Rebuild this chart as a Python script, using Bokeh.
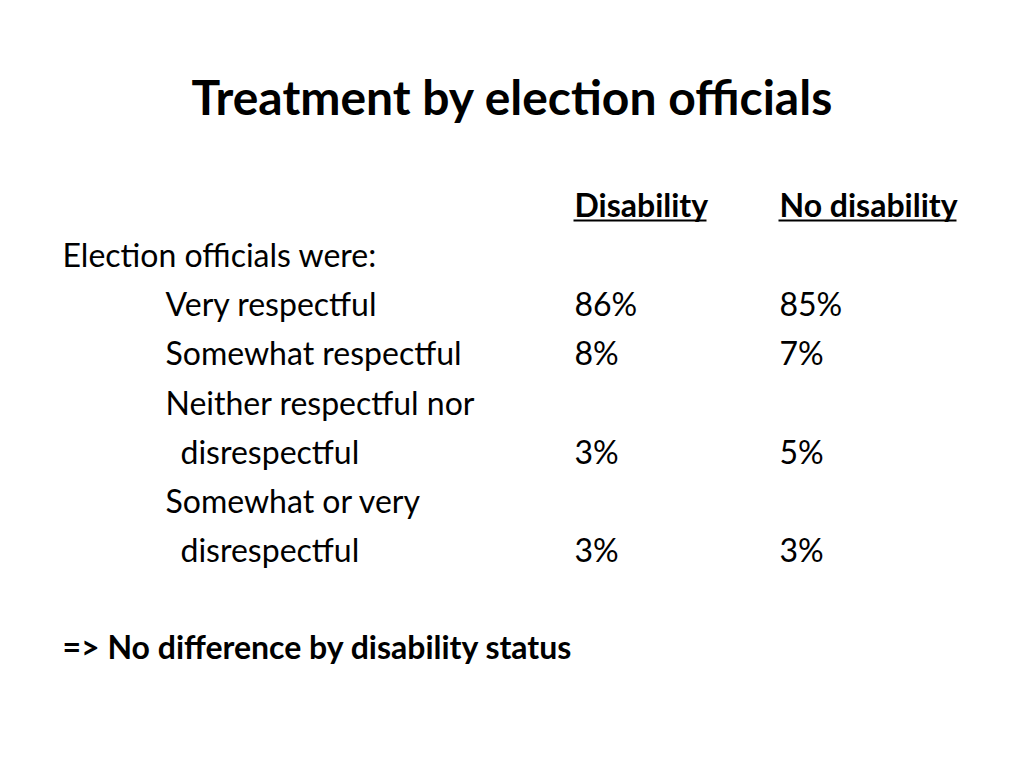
from bokeh.plotting import figure
from bokeh.models import Range1d
from bokeh.core.properties import value
from bokeh.embed import file_html
from bokeh.resources import INLINE

# ---- data ----
title = "Treatment by election officials"
intro = "Election officials were:"
columns = ["Disability", "No disability"]
categories = [
    ["Very respectful"],
    ["Somewhat respectful"],
    ["Neither respectful nor", "  disrespectful"],
    ["Somewhat or very", "  disrespectful"],
]
disability = [86, 8, 3, 3]
no_disability = [85, 7, 5, 3]
conclusion = "=> No difference by disability status"

FONT = "Lato"
BODY = "32px"

p = figure(width=1008, height=752, output_backend="svg", toolbar_location=None,
           x_range=Range1d(0, 1008), y_range=Range1d(752, 0), min_border=0)
p.axis.visible = False
p.grid.visible = False
p.outline_line_color = None
p.background_fill_color = "white"
p.border_fill_color = "white"

# title
p.text(x=[512], y=[96], text=[title], text_font=value(FONT), text_font_size="48px",
       text_font_style="bold", text_align="center", text_baseline="middle", text_color="black")

# headers
col_x = [574, 779]
header_y = 204
p.text(x=col_x, y=[header_y] * 2, text=columns, text_font=value(FONT), text_font_size=BODY,
       text_font_style="bold", text_baseline="middle", text_color="black")
p.segment(x0=[573, 778], y0=[220, 220], x1=[706, 956], y1=[220, 220],
          line_color="black", line_width=2)

# intro line
row_h = 49.2
start_y = 254
p.text(x=[62], y=[start_y], text=[intro], text_font=value(FONT), text_font_size=BODY,
       text_baseline="middle", text_color="black")

lx, ly, lt = [], [], []
vx, vy, vt = [], [], []
line = 1
for cat, d, n in zip(categories, disability, no_disability):
    for i, part in enumerate(cat):
        lx.append(165 + (15 if part.startswith("  ") else 0))
        ly.append(start_y + line * row_h)
        lt.append(part.strip())
        if i == len(cat) - 1:
            for cx, v in zip(col_x, [d, n]):
                vx.append(cx)
                vy.append(start_y + line * row_h)
                vt.append(f"{v}%")
        line += 1

p.text(x=lx, y=ly, text=lt, text_font=value(FONT), text_font_size=BODY,
       text_baseline="middle", text_color="black")
p.text(x=vx, y=vy, text=vt, text_font=value(FONT), text_font_size=BODY,
       text_baseline="middle", text_color="black")

# conclusion
p.text(x=[62], y=[646], text=[conclusion], text_font=value(FONT), text_font_size=BODY,
       text_font_style="bold", text_baseline="middle", text_color="black")

open("out.html", "w").write(file_html(p, INLINE))
